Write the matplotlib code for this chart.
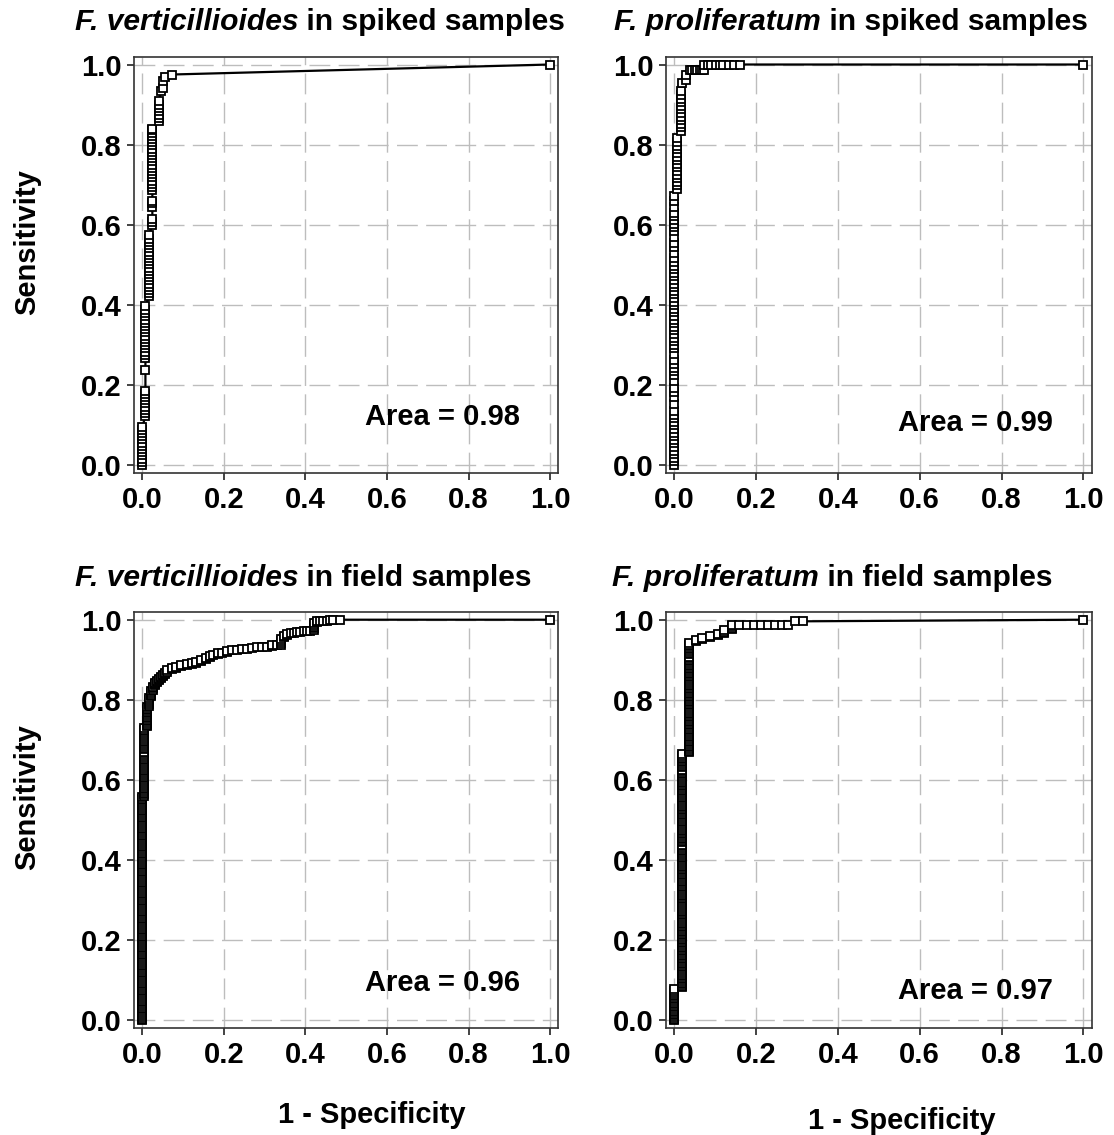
import matplotlib
matplotlib.use('Agg')
import matplotlib.pyplot as plt

plt.rcParams['font.family'] = ['Liberation Sans', 'DejaVu Sans']
plt.rcParams['font.weight'] = 'bold'

# ---------------- data (percent) ----------------
# Each panel: list of 1-specificity values (steps) and, for each, the sensitivity values at that step.
fv_spiked_fpr = [0.0, 0.8, 1.7, 2.5, 4.1, 4.6, 5.1, 5.5, 7.2, 100]
fv_spiked_tpr = [
    [0, 0.8, 1.6, 2.4, 3.2, 4.0, 4.8, 5.6, 6.4, 7.2, 8.0, 8.8, 9.4],
    [12.2, 13.0, 13.8, 14.6, 15.4, 16.2, 17.0, 17.8, 18.5, 23.8, 26.7, 27.5, 28.3, 29.1, 29.9, 30.7,
     31.5, 32.3, 33.1, 33.9, 34.7, 35.5, 36.3, 37.1, 37.9, 38.7, 39.6],
    [42.1, 42.9, 43.7, 44.5, 45.3, 46.1, 46.9, 47.7, 48.5, 49.3, 50.1, 50.9, 51.7, 52.5, 53.3, 54.1,
     54.9, 55.7, 56.5, 57.5],
    [59.9, 60.7, 61.4, 64.5, 65.3, 66.0, 68.6, 69.4, 70.2, 71.0, 71.8, 72.6, 73.4, 74.2, 75.0, 75.8,
     76.6, 77.4, 78.2, 79.0, 79.8, 80.6, 81.4, 82.2, 83.0, 83.6, 84.0],
    [85.9, 86.7, 87.5, 88.3, 89.1, 89.9, 90.9],
    [93.3],
    [94.2, 95.8],
    [96.8],
    [97.5],
    [100],
]

fp_spiked_fpr = [0.0, 0.7, 1.6, 2.0, 3.0, 3.8, 4.4, 5.0, 5.6, 6.2, 6.8, 7.4,
                 8.2, 9.0, 10.2, 11.2, 12.0, 13.4, 14.6, 16.2, 100]
fp_spiked_tpr = [
    [0, 0.9, 1.8, 2.7, 3.6, 4.5, 5.4, 6.3, 7.2, 8.1, 9.0, 9.9, 10.8, 11.7, 12.6, 13.5, 15.3, 17.1,
     18.2, 19.3, 21.0, 22.5, 23.4, 24.3, 25.2, 26.1, 27.6, 29.1, 30.0, 30.9, 31.8, 32.7, 33.6, 34.5,
     35.4, 36.3, 37.2, 38.1, 39.0, 39.9, 40.8, 41.7, 42.6, 43.5, 44.4, 45.3, 46.2, 47.1, 48.0, 48.9,
     49.8, 50.7, 51.6, 53.0, 54.5, 55.4, 57.0, 58.5, 59.4, 60.3, 61.2, 62.1, 63.0, 64.5, 66.0, 67.2],
    [68.9, 69.8, 70.7, 71.6, 72.5, 73.4, 74.3, 75.2, 76.1, 77.0, 77.9, 78.8, 79.7, 80.6, 81.7],
    [83.4, 84.3, 85.2, 86.1, 87.0, 87.9, 88.8, 89.7, 90.6, 91.5, 92.4, 93.4],
    [95.4],
    [96.2, 97.5],
    [98.7], [98.7], [98.7], [98.7], [98.7], [98.7],
    [98.7, 100],
    [100], [100], [100], [100], [100], [100], [100], [100],
    [100],
]

fv_field_fpr = [0.0, 0.5, 1.1, 1.6, 2.1, 2.6, 3.1, 3.6, 4.1, 4.6, 5.2, 5.6,
                6.0, 7.2, 8.4, 9.6, 10.9, 12.1, 13.3, 14.5, 15.7, 16.6, 17.4, 18.6, 19.6,
                20.8, 22.0, 23.2, 24.5, 25.7, 26.9, 28.2, 29.4, 30.6, 31.8, 33.0, 34.0,
                34.8, 35.6, 36.4, 37.2, 38.0, 38.8, 39.6, 40.4, 41.2, 42.0, 42.8, 43.6,
                44.4, 45.2, 46.0, 46.8, 48.4, 100]
fv_field_tpr = [
    [0, 0.4, 0.9, 1.3, 1.8, 2.2, 2.7, 3.1, 3.6, 4.0, 4.5, 4.9, 5.4, 5.8, 6.3, 6.7, 7.2, 7.6, 8.1,
     8.5, 9.0, 9.4, 9.9, 10.3, 10.8, 11.2, 11.7, 12.1, 12.6, 13.0, 13.5, 13.9, 14.4, 14.8, 15.3,
     15.7, 16.2, 16.6, 17.1, 17.5, 18.0, 18.4, 18.9, 19.3, 19.8, 20.2, 20.7, 21.1, 21.6, 22.0, 22.5,
     22.9, 23.4, 23.8, 24.3, 24.7, 25.2, 25.6, 26.1, 26.5, 27.0, 27.4, 27.9, 28.3, 28.8, 29.2, 29.7,
     30.1, 30.6, 31.0, 31.5, 31.9, 32.4, 32.8, 33.3, 33.7, 34.2, 34.6, 35.1, 35.5, 36.0, 36.4, 36.9,
     37.3, 37.8, 38.2, 38.7, 39.1, 39.6, 40.0, 40.5, 40.9, 41.4, 41.8, 42.3, 42.7, 43.2, 43.6, 44.1,
     44.5, 45.0, 45.4, 45.9, 46.3, 46.8, 47.2, 47.7, 48.1, 48.6, 49.0, 49.5, 49.9, 50.4, 50.8, 51.3,
     51.7, 52.2, 52.6, 53.1, 53.5, 54.0, 54.4, 54.9, 55.3, 55.8],
    [56.0, 56.4, 56.8, 57.2, 57.7, 58.1, 58.6, 59.0, 59.5, 59.9, 60.4, 60.8, 61.3, 61.7, 62.2, 62.6,
     63.1, 63.5, 64.0, 64.4, 64.9, 65.3, 65.8, 66.2, 66.7, 67.1, 67.6, 68.0, 68.5, 68.9, 69.4, 69.8,
     70.3, 70.7, 71.2, 71.6, 72.1, 72.5, 73.0],
    [73.4, 73.8, 74.2, 74.6, 75.0, 75.4, 75.8, 76.2, 76.6, 77.0, 77.4, 77.8, 78.2],
    [78.5, 79.0, 79.5, 80.0, 80.5],
    [80.9, 81.3, 81.7, 82.1],
    [82.5, 82.9, 83.3],
    [83.6, 83.9, 84.2],
    [84.5, 84.8],
    [85.0, 85.3],
    [85.5, 85.8],
    [86.0, 86.3],
    [86.5, 86.8],
    [87.0, 87.4], [87.6, 87.9], [88.0, 88.3], [88.4, 88.6], [88.7, 88.9], [89.0, 89.2],
    [89.3, 89.5], [89.6, 89.9], [90.2, 90.5], [90.7, 91.0], [91.2], [91.4, 91.6], [91.7],
    [91.9, 92.2], [92.4], [92.5], [92.7], [92.8], [93.0], [93.1], [93.2], [93.3], [93.4, 93.6],
    [93.7], [93.8, 94.3, 94.8, 95.3],
    [95.6, 96.0], [96.2, 96.5], [96.6], [96.8], [96.9], [97.0], [97.1], [97.2], [97.3],
    [97.5, 97.9, 98.3, 98.7, 99.1], [99.4, 99.6], [99.7], [99.8], [99.8], [99.9], [99.9],
    [100],
    [100],
]

fp_field_fpr = [0.0, 1.9, 3.7, 5.3, 6.9, 8.7, 10.6, 12.2, 14.1, 15.9, 17.7, 19.4, 21.2, 22.9,
                24.7, 26.4, 27.9, 29.6, 31.4, 100]
fp_field_tpr = [
    [0, 0.4, 0.8, 1.2, 1.6, 2.0, 2.4, 2.8, 3.2, 3.6, 4.0, 4.4, 4.8, 5.2, 5.6, 6.0, 6.4, 6.8, 7.2, 7.8],
    [8.2, 8.6, 9.0, 9.4, 9.8, 10.2, 10.6, 11.0, 11.4, 11.8, 12.4, 12.8, 13.2, 13.6, 14.0, 14.4,
     14.8, 15.2, 15.6, 16.0, 16.4, 16.8, 17.2, 17.6, 18.0, 18.4, 18.8, 19.2, 19.6, 20.0, 20.4, 20.8,
     21.2, 21.6, 22.0, 22.4, 22.8, 23.2, 23.6, 24.0, 24.4, 24.8, 25.2, 25.8, 26.2, 26.6, 27.0, 27.4,
     27.8, 28.4, 28.8, 29.2, 29.8, 30.2, 30.6, 31.0, 31.4, 31.8, 32.4, 32.8, 33.2, 33.6, 34.0, 34.4,
     34.8, 35.2, 35.8, 36.2, 36.6, 37.0, 37.4, 37.8, 38.2, 38.6, 39.0, 39.4, 40.0, 40.4, 40.8, 41.2,
     41.8, 42.2, 42.6, 43.0, 43.4, 43.8, 44.4, 44.8, 45.2, 45.6, 46.0, 46.4, 46.8, 47.2, 47.6, 48.0,
     48.6, 49.0, 49.4, 49.8, 50.2, 50.8, 51.2, 51.6, 52.0, 52.4, 52.8, 53.2, 53.6, 54.0, 54.4, 55.0,
     55.4, 55.8, 56.2, 56.8, 57.2, 57.6, 58.0, 58.4, 58.8, 59.2, 59.6, 60.0, 60.6, 61.0, 61.4, 61.8,
     62.2, 62.6, 63.2, 63.6, 64.0, 64.4, 64.8, 65.2, 65.6, 66.0, 66.6],
    [66.9, 67.3, 67.7, 68.1, 68.5, 68.9, 69.4, 69.8, 70.2, 70.6, 71.0, 71.4, 72.0, 72.4, 72.8, 73.2,
     73.6, 74.0, 74.4, 74.8, 75.2, 75.6, 76.0, 76.4, 76.8, 77.2, 77.8, 78.2, 78.6, 79.0, 79.4, 79.8,
     80.2, 80.6, 81.0, 81.4, 81.8, 82.2, 82.6, 83.0, 83.4, 83.8, 84.2, 84.6, 85.2, 85.6, 86.0, 86.4,
     86.8, 87.2, 87.6, 88.0, 88.4, 88.8, 89.2, 89.6, 90.0, 90.4, 90.8, 91.4, 91.8, 92.2, 92.6, 93.0,
     93.4, 93.8, 94.2],
    [94.6, 95.0],
    [95.2, 95.5],
    [95.7, 95.9],
    [96.1, 96.5],
    [96.7, 97.0, 97.4],
    [97.6, 98.0, 98.4, 98.8],
    [98.8], [98.8], [98.8], [98.8], [98.8], [98.8], [98.8], [98.8],
    [99.6], [99.6],
    [100],
]

ticks = [0.0, 0.2, 0.4, 0.6, 0.8, 1.0]
tick_labels = ['0.0', '0.2', '0.4', '0.6', '0.8', '1.0']

panels = [
    dict(fpr=fv_spiked_fpr, tpr=fv_spiked_tpr, species='F. verticillioides', rest=' in spiked samples',
         area='Area = 0.98', box=(134, 56.5, 558.3, 473), title_xy=(75, 22), area_y=0.12),
    dict(fpr=fp_spiked_fpr, tpr=fp_spiked_tpr, species='F. proliferatum', rest=' in spiked samples',
         area='Area = 0.99', box=(666, 56.5, 1091.6, 473), title_xy=(614, 22), area_y=0.105),
    dict(fpr=fv_field_fpr, tpr=fv_field_tpr, species='F. verticillioides', rest=' in field samples',
         area='Area = 0.96', box=(134, 611.7, 558.3, 1028.3), title_xy=(75, 578), area_y=0.092),
    dict(fpr=fp_field_fpr, tpr=fp_field_tpr, species='F. proliferatum', rest=' in field samples',
         area='Area = 0.97', box=(666, 611.7, 1091.6, 1028.3), title_xy=(612, 578), area_y=0.072),
]

W, H = 1114, 1135
fig = plt.figure(figsize=(W / 100, H / 100), dpi=100)
FS = 21
TFS = 21.6

for p in panels:
    l, t, r, b = p['box']
    ax = fig.add_axes([l / W, 1 - b / H, (r - l) / W, (b - t) / H])
    xs, ys = [], []
    for fx, col in zip(p['fpr'], p['tpr']):
        for v in col:
            xs.append(fx / 100.0)
            ys.append(v / 100.0)
    ax.plot(xs, ys, '-', color='black', lw=1.6, marker='s', ms=6.4,
            mfc='white', mec='black', mew=1.3, zorder=3)
    ax.set_xlim(-0.02, 1.02)
    ax.set_ylim(-0.02, 1.02)
    ax.set_xticks(ticks)
    ax.set_yticks(ticks)
    ax.set_xticklabels(tick_labels, fontsize=FS, fontweight='bold')
    ax.set_yticklabels(tick_labels, fontsize=FS, fontweight='bold')
    ax.tick_params(axis='both', direction='out', length=5, width=1.2, color='#222222')
    ax.tick_params(axis='y', pad=4)
    ax.tick_params(axis='x', pad=4)
    ax.set_axisbelow(True)
    ax.grid(True, color='#bdbdbd', lw=1.0, linestyle=(0, (15, 6)))
    for s in ax.spines.values():
        s.set_color('#333333')
        s.set_linewidth(1.2)
    ax.text(0.925, p['area_y'], p['area'], fontsize=FS, fontweight='bold',
            ha='right', va='center', transform=ax.transData)

# titles: italic species name + bold remainder
fig.canvas.draw()
renderer = fig.canvas.get_renderer()
for p in panels:
    tx, ty = p['title_xy']
    t1 = fig.text(tx / W, 1 - ty / H, p['species'], fontsize=TFS, fontweight='bold',
                  fontstyle='italic', ha='left', va='center')
    bb = t1.get_window_extent(renderer=renderer)
    fig.text(bb.x1 / W, 1 - ty / H, p['rest'], fontsize=TFS, fontweight='bold',
             ha='left', va='center')

# axis labels
fig.text(27 / W, 1 - 242 / H, 'Sensitivity', rotation=90, fontsize=FS, fontweight='bold',
         ha='center', va='center')
fig.text(27 / W, 1 - 797 / H, 'Sensitivity', rotation=90, fontsize=FS, fontweight='bold',
         ha='center', va='center')
fig.text(372 / W, 1 - 1115 / H, '1 - Specificity', fontsize=FS, fontweight='bold',
         ha='center', va='center')
fig.text(902 / W, 1 - 1121 / H, '1 - Specificity', fontsize=FS, fontweight='bold',
         ha='center', va='center')

fig.savefig('out.png', dpi=100, facecolor='white')
